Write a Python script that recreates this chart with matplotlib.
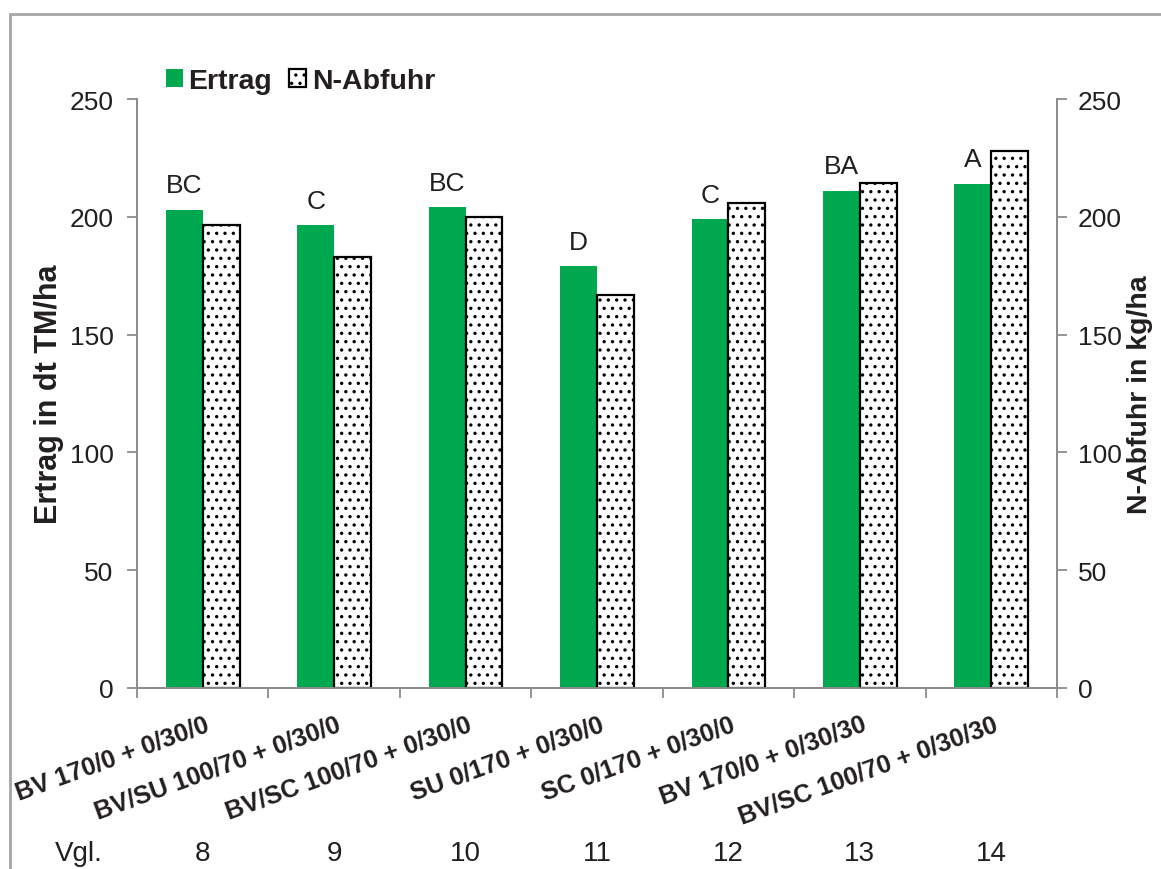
import matplotlib
matplotlib.use("Agg")
import matplotlib.pyplot as plt
from matplotlib.patches import Rectangle
import numpy as np

plt.rcParams['font.family'] = ['Liberation Sans', 'DejaVu Sans']
plt.rcParams['hatch.linewidth'] = 1.2

# data
categories = ["BV 170/0 + 0/30/0", "BV/SU 100/70 + 0/30/0", "BV/SC 100/70 + 0/30/0",
              "SU 0/170 + 0/30/0", "SC 0/170 + 0/30/0", "BV 170/0 + 0/30/30",
              "BV/SC 100/70 + 0/30/30"]
vgl = ["8", "9", "10", "11", "12", "13", "14"]
ertrag = [203, 196.5, 204, 179, 199, 211, 214]
n_abfuhr = [196.5, 183, 200, 167, 206, 214.5, 228]
letters = ["BC", "C", "BC", "D", "C", "BA", "A"]

GREEN = "#00a84f"
GRAY = "#8c8c8c"
TXT = "#231f20"

fig = plt.figure(figsize=(11.61, 8.70), dpi=100)
# outer chart frame
fig.patches.append(Rectangle((10/1161, -0.1), 1.2, 1.1 - 15/870, transform=fig.transFigure,
                             fill=False, edgecolor="#a6a6a6", lw=2))

ax = fig.add_axes([137/1161, 1 - 689/870, 920/1161, 589/870])
ax2 = ax.twinx()

x = np.arange(len(categories))
w = 0.28
ax.bar(x - w/2, ertrag, w, color=GREEN, edgecolor=GREEN, lw=0, label="Ertrag", zorder=2)
ax2.bar(x + w/2, n_abfuhr, w, color="white", edgecolor="black", lw=1.6, hatch="..",
        label="N-Abfuhr", zorder=2)

for xi, v, t in zip(x, ertrag, letters):
    ax.annotate(t, (xi - w/2, v), xytext=(0, 9), textcoords="offset points",
                ha="center", va="bottom", fontsize=19, color=TXT)

for a in (ax, ax2):
    a.set_ylim(0, 250)
    a.set_xlim(-0.5, len(categories) - 0.5)
    a.set_yticks(range(0, 251, 50))
    a.spines["top"].set_visible(False)
    for s in ("left", "right", "bottom"):
        a.spines[s].set_color(GRAY)
        a.spines[s].set_linewidth(1.3)
    a.tick_params(axis="y", colors=GRAY, labelcolor=TXT, labelsize=19, length=7, width=1.3)
ax.tick_params(axis="y", pad=10)
ax2.tick_params(axis="y", pad=8)

ax.set_xticks(np.arange(len(categories) + 1) - 0.5)
ax.set_xticklabels([])
ax.tick_params(axis="x", colors=GRAY, length=7, width=1.3)

ax.set_ylabel("Ertrag in dt TM/ha", fontsize=22, fontweight="bold", color=TXT, labelpad=4)
ax2.set_ylabel("N-Abfuhr in kg/ha", fontsize=20.5, fontweight="bold", color=TXT, labelpad=4)

# rotated category labels and Vgl. numbers
for xi, c, n in zip(x, categories, vgl):
    ax.annotate(c, (xi, 0), xytext=(1, -17), textcoords="offset points",
                ha="right", va="top", rotation=20, rotation_mode="anchor",
                fontsize=18.2, fontweight="bold", color=TXT, annotation_clip=False)
    ax.annotate(n, (xi, 0), xytext=(0, -119), textcoords="offset points",
                ha="center", va="center", fontsize=20, color=TXT, annotation_clip=False)
ax.annotate("Vgl.", (-0.5, 0), xytext=(-59, -119), textcoords="offset points",
            ha="left", va="center", fontsize=20, color=TXT, annotation_clip=False)

h1, l1 = ax.get_legend_handles_labels()
h2, l2 = ax2.get_legend_handles_labels()
fig.legend(h1 + h2, l1 + l2, loc="upper left", bbox_to_anchor=(140/1161, 1 - 43/870),
           ncol=2, frameon=False, handlelength=0.6, handleheight=0.6, handletextpad=0.2,
           columnspacing=0.6, prop={"size": 20.5, "weight": "bold"}, labelcolor=TXT)

fig.savefig("out.png", dpi=100)
